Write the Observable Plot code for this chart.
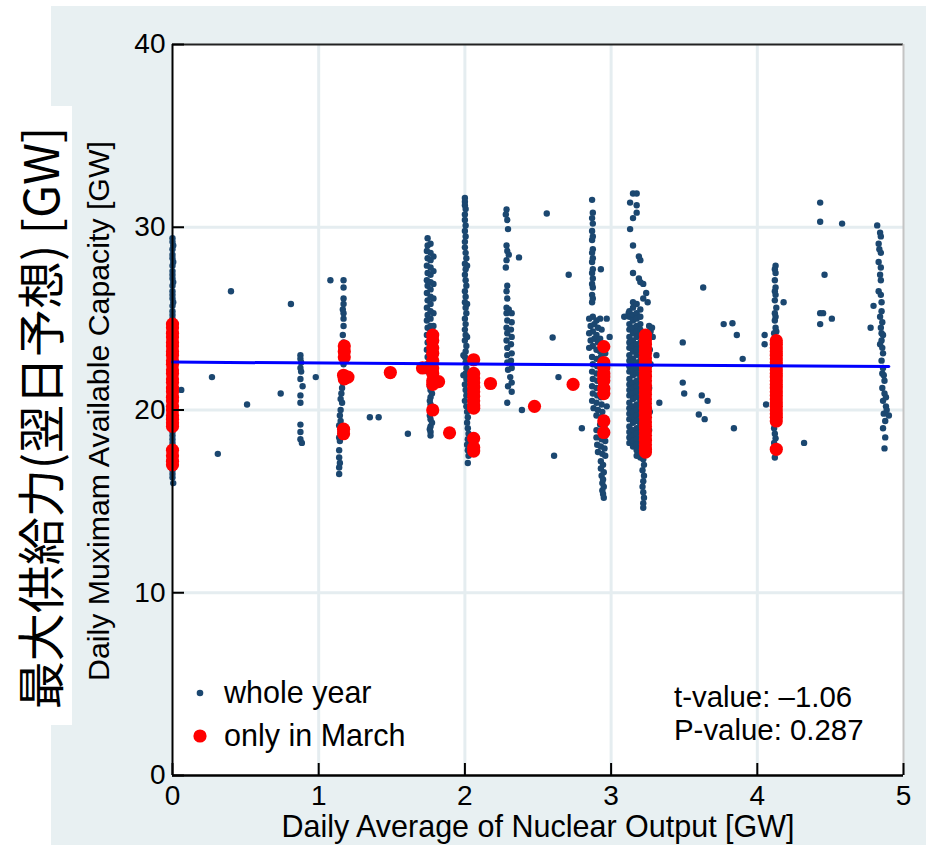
<!DOCTYPE html>
<html>
<head>
<meta charset="utf-8">
<script src="https://cdn.jsdelivr.net/npm/d3@7"></script>
<script src="https://cdn.jsdelivr.net/npm/@observablehq/plot@0.6"></script>
<style>
  html, body { margin: 0; padding: 0; background: #ffffff; }
  #wrap { position: relative; width: 926px; height: 846px; overflow: hidden; }
  .panel { position: absolute; left: 51px; top: 6px; width: 875px; height: 839px; background: #e8f0f2; }
  .jpbox { position: absolute; left: 0; top: 106px; width: 72px; height: 619px; background: #ffffff; }
  #chart { position: absolute; left: 0; top: 0; }
  #labels { position: absolute; left: 0; top: 0; pointer-events: none; }
  #labels text { font-family: "Liberation Sans", Arial, Helvetica, sans-serif; fill: #000; }
</style>
</head>
<body>
<div id="wrap">
  <div class="panel"></div>
  <div class="jpbox"></div>
  <div id="chart"></div>
  <svg id="labels" width="926" height="846">
    <text transform="translate(38,418) rotate(-90)" text-anchor="middle" dominant-baseline="central"
          style="font-family:'Noto Sans CJK JP', sans-serif; font-size:48px">最大供給力(翌日予想) [GW]</text>
    <text transform="translate(109,411) rotate(-90)" text-anchor="middle" font-size="30.3">Daily Muximam Available Capacity [GW]</text>
    <text x="538" y="837" text-anchor="middle" font-size="30.5">Daily Average of Nuclear Output [GW]</text>
    <circle cx="200" cy="693" r="3.3" fill="#1b4770"></circle>
    <text x="224" y="703" font-size="30.5">whole year</text>
    <circle cx="200" cy="736" r="6.6" fill="#ff0000"></circle>
    <text x="224" y="746" font-size="30.5">only in March</text>
    <text x="674" y="707" font-size="29.4">t-value: –1.06</text>
    <text x="674" y="740" font-size="29.4">P-value: 0.287</text>
  </svg>
</div>
<script>
// Each entry is [nuclear output in GW, [daily maximum available capacity in GW, ...]].

// Whole year, days grouped by the nuclear output level of that day
const yearAt0 = [
  [0, [29.4, 29.2, 28.8, 28.5, 28.3, 27.9, 27.6, 27.4, 27.2, 26.8, 26.5, 26.3, 26.1, 25.7, 25.4, 25.2, 25.0, 24.8, 24.6, 24.3, 24.1, 23.9, 23.7, 23.5, 23.2, 23.0, 22.8, 22.6, 22.4, 22.1, 21.9, 21.7, 21.5, 21.3, 21.0, 20.8, 20.6, 20.4, 20.2, 19.9, 19.7, 19.5, 19.3, 19.1, 18.8, 18.6, 18.4, 18.2, 18.0, 17.7, 17.5, 17.3, 17.1, 16.9, 16.7, 16.5, 16.3]],
  [0.005, [29.0, 28.1, 27.0, 25.9, 16.0]]
];
const yearAt09 = [
  [0.875, [23.0, 22.8, 22.3, 21.7, 20.8, 20.4, 19.2, 18.8, 18.4]],
  [0.88, [22.6, 22.1]], [0.89, [21.3]], [0.885, [18.2]]
];
const yearAt12 = [
  [1.17, [27.1, 26.7, 26.1, 25.8, 25.3, 25.0, 24.6, 23.7, 22.5]],
  [1.165, [25.5, 24.1, 23.0, 21.5]],
  [1.16, [22.0, 21.2, 20.4]],
  [1.155, [20.9]],
  [1.15, [20.6, 20.0, 19.4, 18.8]],
  [1.145, [19.7, 18.3, 17.1]],
  [1.14, [19.15, 18.5, 17.8, 17.4, 16.85, 16.5]]
];
const yearAt18 = [
  [1.745, [29.4, 29.0, 28.3, 27.5, 26.8, 26.0, 25.2, 24.5, 23.7, 22.9, 22.1]],
  [1.74, [28.7, 27.9, 27.1, 26.4, 25.6, 24.9, 24.1, 23.3, 22.5]],
  [1.765, [29.1, 28.6, 28.2, 27.8, 27.4, 27.0, 26.6, 26.2, 25.8, 25.4, 25.0, 24.6, 24.3, 23.9, 23.5, 23.1, 22.7, 22.3, 21.9, 21.5, 21.1, 20.7, 20.3, 19.9, 19.5, 19.1, 18.8, 18.6]],
  [1.76, [21.3, 20.5, 19.7, 18.95]],
  [1.785, [28.4, 27.6, 26.9, 26.1, 25.3, 24.6, 23.9]],
  [1.775, [21.7, 20.9, 20.1, 19.3]]
];
const yearAt20 = [
  [2.0, [31.6, 31.4, 31.2, 30.7, 30.4, 29.8, 29.2, 28.9, 28.0, 27.4, 26.5, 25.9, 25.0, 24.4, 23.8, 22.9, 21.4, 20.5]],
  [2.005, [31.0, 30.1, 29.5, 28.6, 27.7, 27.1, 26.2, 25.6, 24.7, 24.1, 23.2, 22.6, 22.0, 21.1]],
  [2.01, [28.3, 26.8, 25.3, 23.5, 22.3, 21.7, 20.8, 20.2]],
  [2.015, [27.9, 25.8, 24.0, 19.9, 19.3, 18.1]],
  [2.02, [19.6, 19.0, 18.4, 17.8, 17.1]],
  [2.025, [18.7, 17.5]],
  [1.99, [23.0, 21.9]]
];
const yearAt23 = [
  [2.285, [30.97, 29.0, 28.2, 26.5, 25.6, 25.3, 24.5, 23.8]],
  [2.28, [30.7, 27.8]],
  [2.29, [30.4, 28.7, 26.8, 26.1, 24.9, 24.2, 23.4, 23.0, 22.6, 20.4]],
  [2.295, [29.9, 22.2, 21.3]],
  [2.3, [28.5, 25.5]],
  [2.31, [21.8]],
  [2.315, [24.4, 23.6, 22.7]],
  [2.32, [25.3, 24.8, 24.0, 23.1, 22.3, 21.5, 21.0]]
];
const yearAt29 = [
  [2.87, [31.5, 30.5, 29.8, 29.3, 28.6, 28.1, 27.5, 26.9, 26.3, 25.9, 22.9, 22.1, 21.3, 20.5]],
  [2.875, [30.8, 30.2, 29.5, 28.8, 28.3, 27.7, 27.2, 26.7, 26.1, 25.1, 24.3, 23.5, 22.5, 21.7, 20.9]],
  [2.85, [25.0, 24.2, 23.4]],
  [2.86, [24.6, 23.8]],
  [2.88, [20.1]],
  [2.885, [24.7, 23.9]],
  [2.9, [24.9, 24.1, 23.3, 22.8, 22.0, 21.2, 20.4, 19.7, 18.9, 18.5]],
  [2.905, [22.4, 21.6, 20.8, 18.1]],
  [2.91, [24.5, 23.7, 20.0, 17.7]],
  [2.925, [25.0, 23.9, 23.2, 19.2]],
  [2.93, [27.7, 22.9, 22.3, 21.5, 20.7, 19.6, 18.8, 18.0, 17.2, 16.8]],
  [2.935, [24.4, 21.9, 21.1, 20.3, 18.4, 16.4]],
  [2.94, [23.6, 19.9, 17.6, 16.0, 15.6]],
  [2.945, [17.0, 16.2, 15.4]],
  [2.95, [16.6, 15.8, 15.2]],
  [2.955, [19.5, 19.1, 17.9]],
  [2.96, [23.1, 21.0, 18.7, 18.3, 17.5]],
  [2.97, [25.0, 20.2]]
];
const yearAt32 = [
  [3.15, [31.85, 30.5, 29.0, 27.5, 25.9]],
  [3.175, [31.85, 31.2, 30.8]],
  [3.13, [31.35, 29.9]],
  [3.19, [28.4, 27.2]],
  [3.2, [28.2, 27.0]],
  [3.22, [26.9, 26.1]],
  [3.24, [26.4]],
  [3.25, [25.9]],
  [3.12, [25.3]],
  [3.125, [25.4, 25.1, 24.7, 24.4, 24.0, 23.7, 23.4, 23.0, 22.7, 22.4, 22.1, 21.7, 21.4, 21.1, 20.8, 20.4, 20.1, 19.8, 19.5, 19.1, 18.8, 18.5, 18.2]],
  [3.15, [25.6, 25.2, 24.9, 24.5, 24.2, 23.8, 23.5, 23.2, 22.8, 22.5, 22.2, 21.9, 21.5, 21.2, 20.9, 20.6, 20.2, 19.9, 19.6, 19.3, 18.9, 18.6, 18.3, 18.0]],
  [3.175, [25.8, 25.3, 25.0, 24.6, 24.3, 24.0, 23.6, 23.3, 23.0, 22.6, 22.3, 22.0, 21.6, 21.3, 21.0, 20.7, 20.3, 20.0, 19.7, 19.4, 19.0, 18.7, 18.4, 18.1, 17.8, 17.5]],
  [3.2, [25.5, 25.1, 24.7, 24.4, 24.1, 23.7, 23.4, 23.1, 22.7, 22.4, 22.1, 21.8, 21.4, 21.1, 20.8, 20.5, 20.1, 19.8, 19.5, 19.2, 18.8, 18.5, 18.2, 17.9, 17.6, 17.4]],
  [3.26, [24.6, 21.2, 18.9]],
  [3.27, [24.3, 22.5]],
  [3.285, [24.0]],
  [3.265, [23.3, 19.9]],
  [3.22, [17.3, 16.1, 15.5, 14.9, 14.65]],
  [3.225, [17.0, 16.4, 15.2]],
  [3.215, [16.7, 15.8]]
];
const yearAt41 = [
  [4.125, [27.9, 27.5, 26.7, 26.3, 25.1, 24.5, 18.45, 17.7]],
  [4.12, [27.7, 27.1, 26.5, 26.0, 25.3, 24.9, 19.2, 18.7, 17.95, 17.4]],
  [4.13, [25.6, 24.3]],
  [4.115, [24.2, 19.0, 18.2]],
  [4.11, [23.5, 21.5, 19.8]],
  [4.14, [22.5, 20.5]]
];
const yearAt49 = [
  [4.82, [30.1]], [4.84, [29.7, 27.4, 25.1, 23.6]], [4.845, [29.5, 28.6, 27.8, 27.1, 26.3, 24.5]],
  [4.83, [29.1, 28.1, 26.5]], [4.835, [28.8]], [4.85, [25.9, 25.4, 23.8, 22.7, 24.2]],
  [4.855, [24.8, 23.4, 22.0, 21.2]], [4.86, [24.1, 23.1, 22.3, 20.5, 19.0]],
  [4.865, [21.9, 19.8]], [4.87, [21.6, 20.9, 17.9]], [4.875, [19.4, 18.5]],
  [4.88, [20.2, 20.7]], [4.885, [20.0]], [4.9, [19.7]]
];
const yearScattered = [
  [0.06, [21.1]], [0.27, [21.8]], [0.31, [17.6]], [0.40, [26.5]], [0.51, [20.3]],
  [0.74, [20.9]], [0.81, [25.8]], [0.98, [21.8]], [1.08, [27.1]], [1.35, [19.6]],
  [1.41, [19.6]], [1.61, [18.7]], [2.37, [28.35]], [2.39, [20.0]], [2.56, [30.75]],
  [2.60, [23.97]], [2.61, [17.5]], [2.64, [21.8]], [2.71, [27.4]], [2.80, [19.0]],
  [2.99, [24.0]], [3.09, [25.1]], [3.28, [24.5]], [3.31, [23.0]], [3.33, [20.4]],
  [3.49, [23.7, 21.5]], [3.50, [20.9]], [3.60, [19.75]], [3.62, [20.8]], [3.63, [26.7]],
  [3.64, [19.5]], [3.66, [20.5]], [3.77, [24.7]], [3.83, [24.75]], [3.84, [19.0]],
  [3.86, [24.1]], [3.90, [22.8]], [4.05, [24.1, 23.6]], [4.06, [20.3]], [4.18, [25.9]],
  [4.32, [18.2]], [4.43, [31.35, 30.3, 25.3, 24.7]], [4.45, [25.3]], [4.46, [27.4]],
  [4.51, [25.0]], [4.58, [30.2]], [4.775, [24.5]], [4.795, [25.7]]
];

// March only
const marchAt0 = [[0, [24.7, 24.5, 24.2, 24.0, 23.7, 23.5, 23.2, 23.0, 22.7, 22.5, 22.2, 22.0, 21.7, 21.5, 21.2, 21.0, 20.7, 20.5, 20.2, 20.0, 19.7, 19.5, 19.3, 19.1, 17.8, 17.5, 17.2, 17.0]]];
const marchAt12 = [[1.175, [23.5, 23.2, 22.9, 21.7]], [1.17, [21.9, 18.95, 18.7]], [1.2, [21.8]]];
const marchAt18 = [[1.78, [24.1, 23.8, 23.4, 23.1, 22.7, 22.3, 22.0, 21.6, 21.4]]];
const marchAt20 = [[2.06, [22.75, 22.0, 21.75, 21.5, 21.25, 21.0, 20.75, 20.5, 20.25, 20.1, 18.45, 17.95, 17.75]]];
const marchAt29 = [[2.95, [23.47, 22.6, 22.33, 22.0, 21.8, 21.6, 21.18, 20.9, 19.4, 18.77]]];
const marchAt32 = [[3.235, [24.1, 23.85, 23.6, 23.35, 23.1, 22.85, 22.6, 22.35, 22.1, 21.85, 21.6, 21.35, 21.1, 20.85, 20.6, 20.35, 20.1, 19.85, 19.6, 19.35, 19.1, 18.85, 18.6, 18.35, 18.1, 17.85, 17.7]]];
const marchAt41 = [[4.13, [23.8, 23.6, 23.4, 23.2, 23.0, 22.8, 22.6, 22.4, 22.2, 22.0, 21.8, 21.6, 21.4, 21.2, 21.0, 20.8, 20.6, 20.4, 20.2, 20.0, 19.8, 19.6, 19.4, 17.85]]];
const marchScattered = [[1.49, [22.05]], [1.71, [22.3]], [1.82, [21.55]], [1.78, [20.0]], [1.895, [18.75]], [2.175, [21.45]], [2.476, [20.2]], [2.74, [21.4]]];

// Least-squares fit over the whole year
const fitOutput = [0, 4.9];
const fitCapacity = [22.62, 22.38];

// Axis ticks
const xTicks = [0, 1, 2, 3, 4, 5];
const yTicks = [0, 10, 20, 30, 40];
const xGrid = [1, 2, 3, 4];
const yGrid = [10, 20, 30];

const flat = (groups) => groups.flatMap(([x, ys]) => ys.map((y) => ({x, y})));
const wholeYear = flat([...yearAt0, ...yearAt09, ...yearAt12, ...yearAt18, ...yearAt20, ...yearAt23,
  ...yearAt29, ...yearAt32, ...yearAt41, ...yearAt49, ...yearScattered]);
const march = flat([...marchAt0, ...marchAt12, ...marchAt18, ...marchAt20, ...marchAt29,
  ...marchAt32, ...marchAt41, ...marchScattered]);
const fit = fitOutput.map((x, i) => ({x, y: fitCapacity[i]}));

const W = 926, H = 846, mL = 172, mR = 23, mT = 44, mB = 71;
const innerW = W - mL - mR, innerH = H - mT - mB, tickLen = 12;

const chart = Plot.plot({
  width: W,
  height: H,
  marginLeft: mL,
  marginRight: mR,
  marginTop: mT,
  marginBottom: mB,
  style: {background: "transparent", fontFamily: "'Liberation Sans', Arial, sans-serif", color: "#000", overflow: "visible"},
  x: {domain: [0, 5]},
  y: {domain: [0, 40]},
  marks: [
    Plot.frame({fill: "#ffffff", stroke: "none"}),
    Plot.gridX(xGrid, {stroke: "#e5edf0", strokeOpacity: 1, strokeWidth: 3}),
    Plot.gridY(yGrid, {stroke: "#e5edf0", strokeOpacity: 1, strokeWidth: 3}),
    Plot.dot(wholeYear, {x: "x", y: "y", r: 3.2, fill: "#1b4770"}),
    Plot.dot(march, {x: "x", y: "y", r: 6.6, fill: "#ff0000"}),
    Plot.line(fit, {x: "x", y: "y", stroke: "#0000ff", strokeWidth: 3}),
    Plot.ruleY([40], {stroke: "#222222", strokeWidth: 2}),
    Plot.ruleX([5], {stroke: "#c4c4c4", strokeWidth: 2}),
    Plot.ruleX([0], {stroke: "#000000", strokeWidth: 2}),
    Plot.ruleY([0], {stroke: "#000000", strokeWidth: 2.5}),
    Plot.tickX(xTicks, {x: (d) => d, insetTop: innerH - tickLen, stroke: "#000", strokeWidth: 2}),
    Plot.tickY(yTicks, {y: (d) => d, insetRight: innerW - tickLen, stroke: "#000", strokeWidth: 2}),
    Plot.axisX({ticks: xTicks, tickSize: 0, tickPadding: 10, fontSize: 28, label: null, tickFormat: (d) => String(d)}),
    Plot.axisY({ticks: yTicks, tickSize: 0, tickPadding: 7, fontSize: 28, label: null, tickFormat: (d) => String(d)})
  ]
});
document.getElementById("chart").appendChild(chart);
</script>
</body>
</html>
